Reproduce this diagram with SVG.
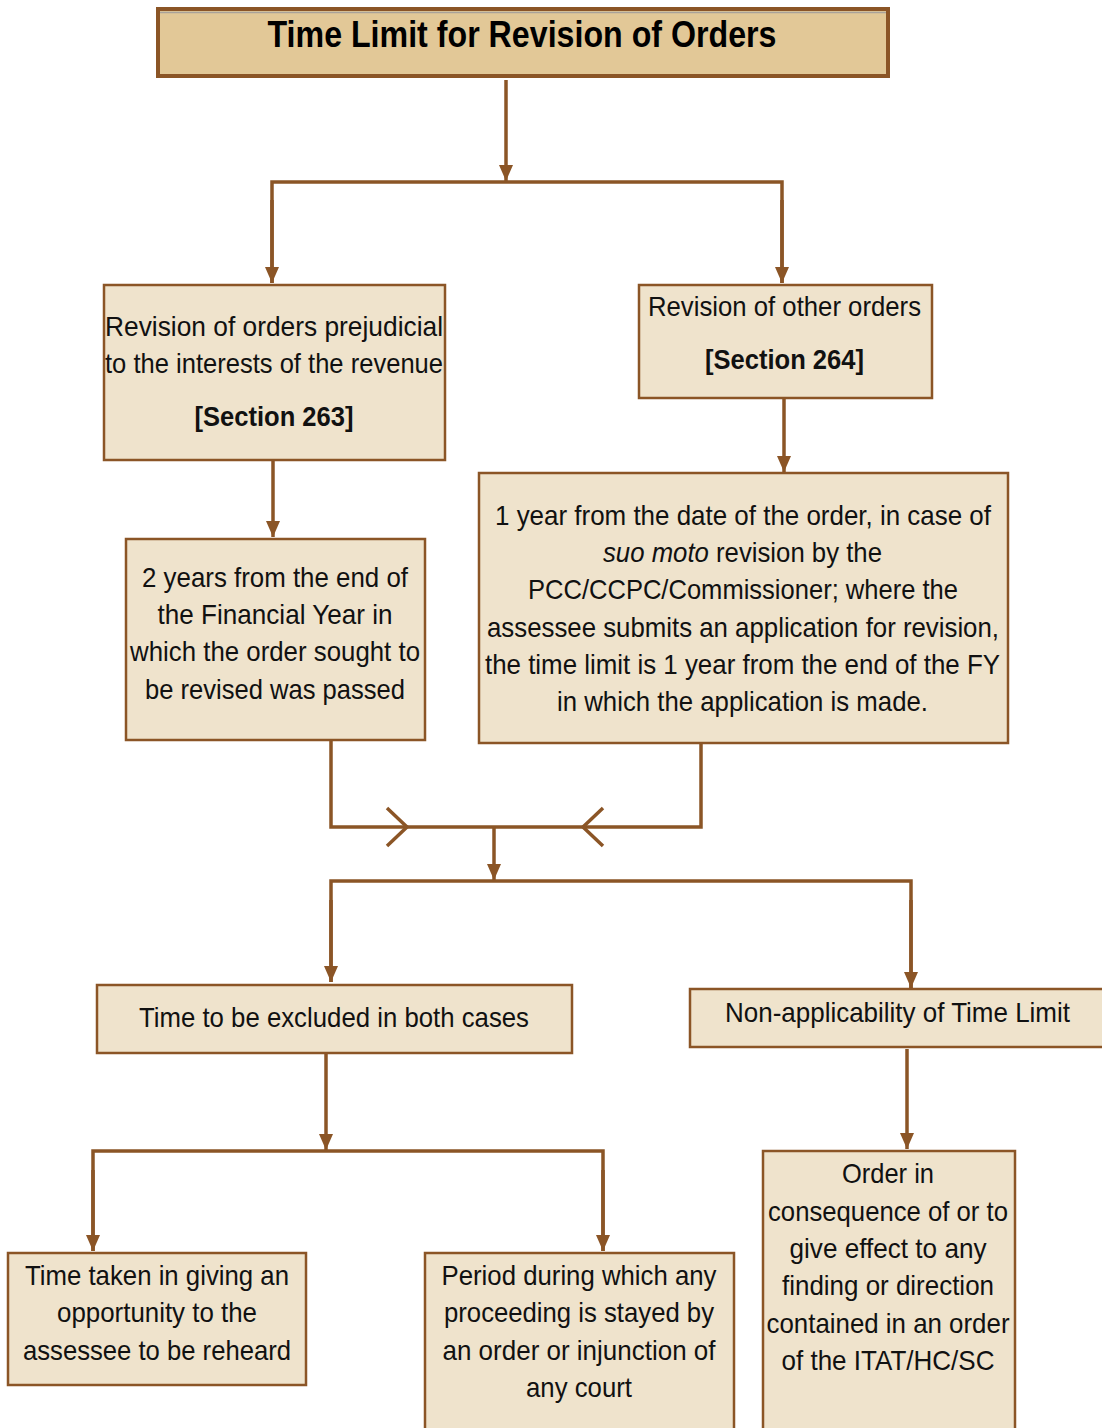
<svg xmlns="http://www.w3.org/2000/svg" width="1102" height="1428" viewBox="0 0 1102 1428">
  <defs>
    <style>
      .box { fill: #efe3cc; stroke: #8b5526; stroke-width: 2.5; }
      .title-box { fill: #e2c897; stroke: #8b5526; stroke-width: 4; }
      .t { font-family: "Liberation Sans Narrow", "Liberation Sans", Arial, sans-serif; font-size: 28px; fill: #111; text-anchor: middle; }
      .b { font-weight: bold; }
      .head { font-size: 36px; fill: #000; }
      .wire { fill: none; stroke: #8b5526; stroke-width: 3.5; stroke-linejoin: miter; }
      .chev { fill: none; stroke: #8b5526; stroke-width: 3.5; stroke-linecap: butt; }
    </style>
    <marker id="arrow" viewBox="0 0 16 14" refX="16" refY="7" markerWidth="16" markerHeight="14" markerUnits="userSpaceOnUse" orient="auto">
      <path d="M0,0 L16,7 L0,14 Z" fill="#8b5526"/>
    </marker>
  </defs>

  <!-- connectors -->
  <g id="connectors">
    <path class="wire" d="M506,80 V181" marker-end="url(#arrow)"/>
    <path class="wire" d="M272,283 V182 H782 V283" />
    <path class="wire" d="M272,200 V283" marker-end="url(#arrow)"/>
    <path class="wire" d="M782,200 V283" marker-end="url(#arrow)"/>
    <path class="wire" d="M273,460 V537" marker-end="url(#arrow)"/>
    <path class="wire" d="M784,398 V472" marker-end="url(#arrow)"/>
    <path class="wire" d="M331,740 V827 H701 V743"/>
    <path class="chev" d="M387,808 L407,827 L387,846"/>
    <path class="chev" d="M603,808 L583,827 L603,846"/>
    <path class="wire" d="M494,827 V880" marker-end="url(#arrow)"/>
    <path class="wire" d="M331,982 V881 H911 V988"/>
    <path class="wire" d="M331,900 V982" marker-end="url(#arrow)"/>
    <path class="wire" d="M911,900 V988" marker-end="url(#arrow)"/>
    <path class="wire" d="M326,1050 V1150" marker-end="url(#arrow)"/>
    <path class="wire" d="M93,1251 V1151 H603 V1251"/>
    <path class="wire" d="M93,1170 V1251" marker-end="url(#arrow)"/>
    <path class="wire" d="M603,1170 V1251" marker-end="url(#arrow)"/>
    <path class="wire" d="M907,1049 V1149" marker-end="url(#arrow)"/>
  </g>

  <!-- title -->
  <g id="title">
    <rect class="title-box" x="158" y="9" width="730" height="67"/>
    <line x1="160" y1="12.5" x2="886" y2="12.5" stroke="#a9a29a" stroke-width="1.5"/>
    <text class="t b head" x="522" y="47" textLength="509" lengthAdjust="spacingAndGlyphs">Time Limit for Revision of Orders</text>
  </g>

  <g id="sec263">
    <rect class="box" x="104" y="285" width="341" height="175"/>
    <text class="t" x="274" y="336" textLength="338" lengthAdjust="spacingAndGlyphs">Revision of orders prejudicial</text>
    <text class="t" x="274" y="373" textLength="338" lengthAdjust="spacingAndGlyphs">to the interests of the revenue</text>
    <text class="t b" x="274" y="426" textLength="159" lengthAdjust="spacingAndGlyphs">[Section 263]</text>
  </g>

  <g id="sec264">
    <rect class="box" x="639" y="285" width="293" height="113"/>
    <text class="t" x="784.5" y="316" textLength="273" lengthAdjust="spacingAndGlyphs">Revision of other orders</text>
    <text class="t b" x="784.5" y="369" textLength="159" lengthAdjust="spacingAndGlyphs">[Section 264]</text>
  </g>

  <g id="limit263">
    <rect class="box" x="126" y="539" width="299" height="201"/>
    <text class="t" x="275" y="587" textLength="266" lengthAdjust="spacingAndGlyphs">2 years from the end of</text>
    <text class="t" x="275" y="624" textLength="235" lengthAdjust="spacingAndGlyphs">the Financial Year in</text>
    <text class="t" x="275" y="661" textLength="290" lengthAdjust="spacingAndGlyphs">which the order sought to</text>
    <text class="t" x="275" y="699" textLength="260" lengthAdjust="spacingAndGlyphs">be revised was passed</text>
  </g>

  <g id="limit264">
    <rect class="box" x="479" y="473" width="529" height="270"/>
    <text class="t" x="743" y="525" textLength="496" lengthAdjust="spacingAndGlyphs">1 year from the date of the order, in case of</text>
    <text class="t" x="742.5" y="562" textLength="279" lengthAdjust="spacingAndGlyphs"><tspan font-style="italic">suo moto</tspan> revision by the</text>
    <text class="t" x="743" y="599" textLength="430" lengthAdjust="spacingAndGlyphs">PCC/CCPC/Commissioner; where the</text>
    <text class="t" x="743" y="637" textLength="512" lengthAdjust="spacingAndGlyphs">assessee submits an application for revision,</text>
    <text class="t" x="742.5" y="674" textLength="515" lengthAdjust="spacingAndGlyphs">the time limit is 1 year from the end of the FY</text>
    <text class="t" x="742.5" y="711" textLength="371" lengthAdjust="spacingAndGlyphs">in which the application is made.</text>
  </g>

  <g id="excluded">
    <rect class="box" x="97" y="985" width="475" height="68"/>
    <text class="t" x="334" y="1027" textLength="390" lengthAdjust="spacingAndGlyphs">Time to be excluded in both cases</text>
  </g>

  <g id="nonapplicability">
    <rect class="box" x="690" y="989" width="420" height="58"/>
    <text class="t" x="897.5" y="1022" textLength="345" lengthAdjust="spacingAndGlyphs">Non-applicability of Time Limit</text>
  </g>

  <g id="rehearing">
    <rect class="box" x="8" y="1253" width="298" height="132"/>
    <text class="t" x="157" y="1285" textLength="264" lengthAdjust="spacingAndGlyphs">Time taken in giving an</text>
    <text class="t" x="157" y="1322" textLength="200" lengthAdjust="spacingAndGlyphs">opportunity to the</text>
    <text class="t" x="157" y="1360" textLength="268" lengthAdjust="spacingAndGlyphs">assessee to be reheard</text>
  </g>

  <g id="stay">
    <rect class="box" x="425" y="1253" width="309" height="190"/>
    <text class="t" x="579" y="1285" textLength="275" lengthAdjust="spacingAndGlyphs">Period during which any</text>
    <text class="t" x="579" y="1322" textLength="270" lengthAdjust="spacingAndGlyphs">proceeding is stayed by</text>
    <text class="t" x="579" y="1360" textLength="273" lengthAdjust="spacingAndGlyphs">an order or injunction of</text>
    <text class="t" x="579" y="1397" textLength="106" lengthAdjust="spacingAndGlyphs">any court</text>
  </g>

  <g id="consequential">
    <rect class="box" x="763" y="1151" width="252" height="292"/>
    <text class="t" x="888" y="1183" textLength="92" lengthAdjust="spacingAndGlyphs">Order in</text>
    <text class="t" x="888" y="1221" textLength="240" lengthAdjust="spacingAndGlyphs">consequence of or to</text>
    <text class="t" x="888" y="1258" textLength="197" lengthAdjust="spacingAndGlyphs">give effect to any</text>
    <text class="t" x="888" y="1295" textLength="212" lengthAdjust="spacingAndGlyphs">finding or direction</text>
    <text class="t" x="888" y="1333" textLength="243" lengthAdjust="spacingAndGlyphs">contained in an order</text>
    <text class="t" x="888" y="1370" textLength="213" lengthAdjust="spacingAndGlyphs">of the ITAT/HC/SC</text>
  </g>
</svg>
